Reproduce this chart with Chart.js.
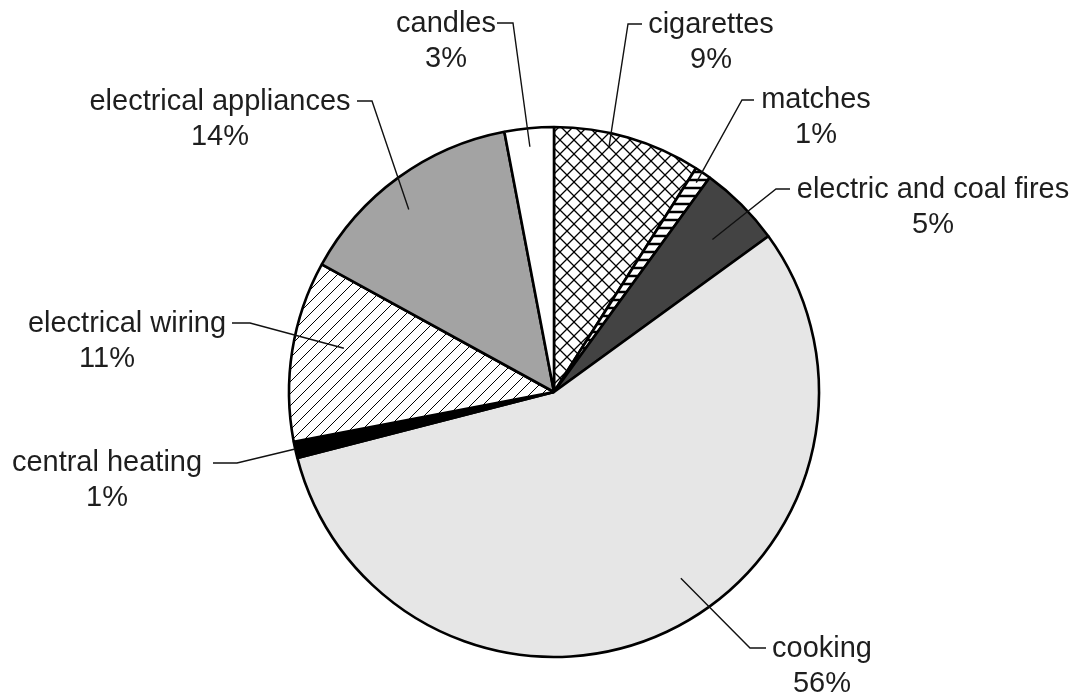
<!DOCTYPE html>
<html>
<head>
<meta charset="utf-8">
<style>
  html, body { margin: 0; padding: 0; background: #ffffff; }
  canvas { display: block; }
</style>
<script src="https://cdn.jsdelivr.net/npm/chart.js@4/dist/chart.umd.min.js"></script>
</head>
<body>
<canvas id="chart" width="1077" height="697"></canvas>
<script>
// Causes of domestic fires, share of total (%)
const categories = [
  'cigarettes', 'matches', 'electric and coal fires', 'cooking',
  'central heating', 'electrical wiring', 'electrical appliances', 'candles'
];
const shares = [9, 1, 5, 56, 1, 11, 14, 3];

// Fill style for each slice: plain colour or a named hatch
const fills = ['cross', 'stripes', '#434343', '#e6e6e6', '#000000', 'diag', '#a3a3a3', '#ffffff'];

// Callout placement: text centre x, first baseline y, optional centre x of the
// percentage line, leader start and elbow, and where the leader ends inside
// the slice (fraction of sweep, fraction of radius)
const callouts = [
  { tx: 711, ty: 33,  from: [642, 24],  elbow: [628, 24],  t: 0.39, r: 0.95 },
  { tx: 816, ty: 108, from: [754, 100], elbow: [742, 100], t: 0.50, r: 0.955 },
  { tx: 933, ty: 198, from: [790, 189], elbow: [776, 189], t: 0.56, r: 0.83 },
  { tx: 822, ty: 657, from: [766, 648], elbow: [750, 648], t: 0.455, r: 0.85 },
  { tx: 107, ty: 471, from: [213, 463], elbow: [237, 463], t: 0.55, r: 1.0 },
  { tx: 127, ty: 332, px: 107, from: [232, 323], elbow: [250, 323], t: 0.57, r: 0.81 },
  { tx: 220, ty: 110, from: [357, 101], elbow: [372, 101], t: 0.45, r: 0.88 },
  { tx: 446, ty: 32,  from: [497, 23],  elbow: [513, 23],  t: 0.48, r: 0.93 }
];

function makeTile(w, h, draw) {
  const c = document.createElement('canvas');
  c.width = w; c.height = h;
  const g = c.getContext('2d');
  g.fillStyle = '#ffffff';
  g.fillRect(0, 0, w, h);
  g.strokeStyle = '#000000';
  draw(g, w, h);
  return g.createPattern(c, 'repeat');
}

const patterns = {
  cross: makeTile(14, 14, (g, w, h) => {
    g.lineWidth = 1.3;
    g.beginPath();
    g.moveTo(-1, -1); g.lineTo(w + 1, h + 1);
    g.moveTo(-1, h + 1); g.lineTo(w + 1, -1);
    g.stroke();
  }),
  stripes: makeTile(8, 8, (g, w, h) => {
    g.lineWidth = 2.5;
    g.beginPath();
    g.moveTo(0, 4); g.lineTo(w, 4);
    g.stroke();
  }),
  diag: makeTile(12, 12, (g, w, h) => {
    g.lineWidth = 1;
    g.beginPath();
    g.moveTo(-1, h + 1); g.lineTo(w + 1, -1);
    g.moveTo(-1, 1); g.lineTo(1, -1);
    g.moveTo(w - 1, h + 1); g.lineTo(w + 1, h - 1);
    g.stroke();
  })
};

const backgrounds = fills.map(f => patterns[f] || f);

const FONT = '29px "Liberation Sans", Arial, Helvetica, sans-serif';

const calloutPlugin = {
  id: 'callouts',
  afterDatasetsDraw(chart) {
    const ctx = chart.ctx;
    const meta = chart.getDatasetMeta(0);
    ctx.save();
    meta.data.forEach((arc, i) => {
      const c = callouts[i];
      const p = arc.getProps(['x', 'y', 'startAngle', 'endAngle', 'outerRadius'], true);
      const a = p.startAngle + c.t * (p.endAngle - p.startAngle);
      const rr = c.r * p.outerRadius;
      const ex = p.x + rr * Math.cos(a);
      const ey = p.y + rr * Math.sin(a);

      ctx.strokeStyle = '#111111';
      ctx.lineWidth = 1.4;
      ctx.lineJoin = 'miter';
      ctx.beginPath();
      ctx.moveTo(c.from[0], c.from[1]);
      ctx.lineTo(c.elbow[0], c.elbow[1]);
      ctx.lineTo(ex, ey);
      ctx.stroke();

      ctx.fillStyle = '#1e1e1e';
      ctx.font = FONT;
      ctx.textAlign = 'center';
      ctx.textBaseline = 'alphabetic';
      ctx.fillText(categories[i], c.tx, c.ty);
      ctx.fillText(shares[i] + '%', c.px !== undefined ? c.px : c.tx, c.ty + 35);
    });
    ctx.restore();
  }
};

new Chart(document.getElementById('chart'), {
  type: 'pie',
  data: {
    labels: categories,
    datasets: [{
      data: shares,
      backgroundColor: backgrounds,
      borderColor: '#000000',
      borderWidth: 2.6,
      radius: 265
    }]
  },
  options: {
    responsive: false,
    animation: false,
    layout: { padding: { left: 31, top: 87, right: 0, bottom: 0 } },
    plugins: {
      legend: { display: false },
      tooltip: { enabled: false }
    }
  },
  plugins: [calloutPlugin]
});
</script>
</body>
</html>
